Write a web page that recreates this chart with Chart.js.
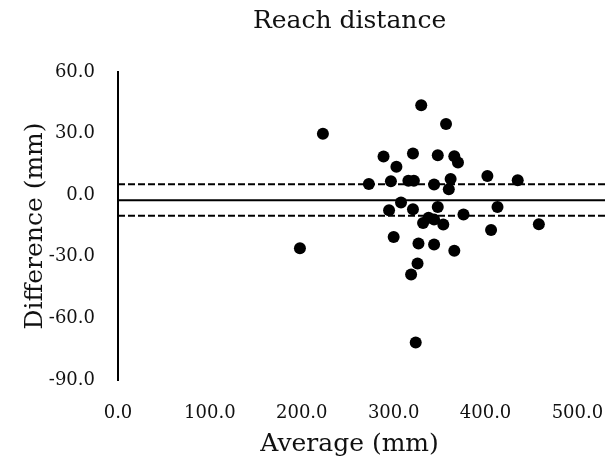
<!DOCTYPE html>
<html>
<head>
<meta charset="utf-8">
<script src="https://cdn.jsdelivr.net/npm/chart.js@4"></script>
<style>
  html, body { margin: 0; background: #fff; overflow: hidden; }
  /* a little wider than the window: the plot runs off the right edge in the original */
  #wrap { width: 611px; height: 461px; }
</style>
</head>
<body>
<div id="wrap"><canvas id="baChart"></canvas></div>
<script>
// Bland-Altman data
const avgValues = [330, 357, 223, 289, 321, 348, 366, 370, 303, 273,
  297, 316, 322, 344, 362, 360, 308, 295, 321, 348,
  376, 332, 338, 344, 354, 300, 327, 344, 366, 198,
  326, 319, 324, 402, 435, 413, 406, 458];
const diffValues = [43.8, 34.7, 29.9, 18.8, 20.3, 19.5, 19.0, 15.9, 13.8, 5.4,
  6.8, 7.0, 7.0, 5.2, 7.9, 2.9, -3.6, -7.3, -6.8, -5.7,
  -9.4, -13.5, -11.0, -11.8, -14.3, -20.3, -23.5, -24.0, -27.1, -25.8,
  -33.3, -38.6, -71.7, 9.3, 7.3, -5.7, -17.0, -14.1];

const meanDiff = -2.4;
const upperLoA = 5.3;
const lowerLoA = -10.0;

// axes (right side of the picture is cut off)
const xMin = 0;
const xMax = 530;
const xTickValues = [0, 100, 200, 300, 400, 500];
const yTickValues = [-90, -60, -30, 0, 30, 60];

const serif = "'DejaVu Serif', 'Liberation Serif', serif";
const ink = '#111';

const points = avgValues.map((x, i) => ({ x: x, y: diffValues[i] }));
const hLine = y => [{ x: xMin, y: y }, { x: xMax, y: y }];

const ctx = document.getElementById('baChart').getContext('2d');
new Chart(ctx, {
  type: 'scatter',
  data: {
    datasets: [
      {
        label: 'Difference',
        data: points,
        backgroundColor: '#000',
        pointRadius: 6,
        pointBorderWidth: 0,
        pointHoverRadius: 6
      },
      {
        type: 'line',
        label: 'Mean',
        data: hLine(meanDiff),
        borderColor: '#000',
        borderWidth: 2,
        pointRadius: 0
      },
      {
        type: 'line',
        label: 'Upper',
        data: hLine(upperLoA),
        borderColor: '#000',
        borderWidth: 2,
        borderDash: [7, 3],
        pointRadius: 0
      },
      {
        type: 'line',
        label: 'Lower',
        data: hLine(lowerLoA),
        borderColor: '#000',
        borderWidth: 2,
        borderDash: [7, 3],
        pointRadius: 0
      }
    ]
  },
  options: {
    responsive: true,
    maintainAspectRatio: false,
    devicePixelRatio: 1,
    animation: false,
    layout: { padding: 0 },
    plugins: {
      legend: { display: false },
      tooltip: { enabled: false },
      title: {
        display: true,
        fullSize: false,
        // trailing spaces nudge the centred text a bit to the left, like the original
        text: 'Reach distance\u00a0\u00a0\u00a0',
        color: ink,
        font: { family: serif, size: 25, weight: 'normal' },
        padding: { top: 6, bottom: 36 }
      }
    },
    scales: {
      x: {
        type: 'linear',
        min: xMin,
        max: xMax,
        afterBuildTicks: scale => { scale.ticks = xTickValues.map(v => ({ value: v })); },
        afterFit: scale => {
          scale.height = 81;
          scale.paddingLeft = 0;
          scale.paddingRight = 0;
        },
        grid: { display: false, drawTicks: false },
        border: { display: false },
        ticks: {
          color: ink,
          font: { family: serif, size: 18 },
          padding: 23,
          maxRotation: 0,
          callback: v => v.toFixed(1)
        },
        title: {
          display: true,
          text: 'Average (mm)\u00a0\u00a0\u00a0',
          color: ink,
          font: { family: serif, size: 25 },
          padding: { top: 0, bottom: 2 }
        }
      },
      y: {
        min: -90,
        max: 60,
        afterBuildTicks: scale => { scale.ticks = yTickValues.map(v => ({ value: v })); },
        afterFit: scale => { scale.width = 118; },
        grid: { display: false, drawTicks: false },
        border: { display: true, color: '#000', width: 2 },
        ticks: {
          color: ink,
          font: { family: serif, size: 18 },
          padding: 23,
          callback: v => v.toFixed(1)
        },
        title: {
          display: true,
          text: 'Difference (mm)',
          color: ink,
          font: { family: serif, size: 25 },
          padding: { top: 20, bottom: 0 }
        }
      }
    }
  }
});
</script>
</body>
</html>
